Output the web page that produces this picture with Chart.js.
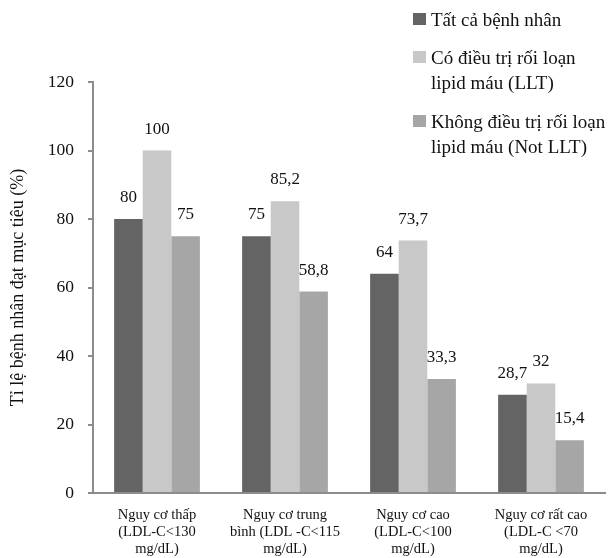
<!DOCTYPE html>
<html lang="vi">
<head>
<meta charset="utf-8">
<script src="https://cdn.jsdelivr.net/npm/chart.js@4/dist/chart.umd.min.js"></script>
<style>
  html, body { margin: 0; padding: 0; background: #ffffff; }
  #wrap { position: relative; width: 613px; height: 558px; }
  #c { position: absolute; left: 0; top: 0; }
  .legend { position: absolute; left: 413px; top: 0; font-family: "Liberation Serif", "DejaVu Serif", serif; font-size: 19px; color: #111; }
  .item { position: absolute; left: 0; white-space: nowrap; line-height: 25px; }
  .sw { position: absolute; left: 0; width: 13px; height: 12px; }
  .txt { position: absolute; left: 18px; }
</style>
</head>
<body>
<div id="wrap">
  <canvas id="c" width="613" height="558"></canvas>
  <div class="legend" id="legend"></div>
</div>
<script>
// Risk groups on the x axis (multi-line labels)
const categories = [
  ["Nguy cơ thấp", "(LDL-C<130", "mg/dL)"],
  ["Nguy cơ trung", "bình (LDL -C<115", "mg/dL)"],
  ["Nguy cơ cao", "(LDL-C<100", "mg/dL)"],
  ["Nguy cơ rất cao", "(LDL-C <70", "mg/dL)"]
];

// Share of patients reaching the LDL-C target (%)
const allPatients = [80, 75, 64, 28.7];
const withLLT = [100, 85.2, 73.7, 32];
const withoutLLT = [75, 58.8, 33.3, 15.4];

const seriesNames = [
  ["Tất cả bệnh nhân"],
  ["Có điều trị rối loạn", "lipid máu (LLT)"],
  ["Không điều trị rối loạn", "lipid máu (Not LLT)"]
];
const seriesColors = ["#646464", "#c8c8c8", "#a6a6a6"];

const yTicks = [0, 20, 40, 60, 80, 100, 120];
const yTitle = "Tỉ lệ bệnh nhân đạt mục tiêu (%)";

const serif = "'Liberation Serif', 'DejaVu Serif', serif";

// HTML legend in the top-right corner
const legendTops = [7, 45, 109];
const legendEl = document.getElementById('legend');
seriesNames.forEach((lines, i) => {
  const item = document.createElement('div');
  item.className = 'item';
  item.style.top = legendTops[i] + 'px';
  const sw = document.createElement('div');
  sw.className = 'sw';
  sw.style.background = seriesColors[i];
  sw.style.top = '6px';
  const txt = document.createElement('div');
  txt.className = 'txt';
  txt.innerHTML = lines.join('<br>');
  item.appendChild(sw);
  item.appendChild(txt);
  legendEl.appendChild(item);
});

// Value labels above each bar, written with a decimal comma
const valueLabels = {
  id: 'valueLabels',
  afterDatasetsDraw(chart) {
    const ctx = chart.ctx;
    ctx.save();
    ctx.font = "17px " + serif;
    ctx.fillStyle = "#111";
    ctx.textAlign = "center";
    ctx.textBaseline = "alphabetic";
    chart.data.datasets.forEach((ds, di) => {
      chart.getDatasetMeta(di).data.forEach((bar, i) => {
        const txt = String(ds.data[i]).replace('.', ',');
        ctx.fillText(txt, bar.x, bar.y - 17);
      });
    });
    ctx.restore();
  }
};

new Chart(document.getElementById('c'), {
  type: 'bar',
  data: {
    labels: categories,
    datasets: [
      { label: seriesNames[0].join(' '), data: allPatients, backgroundColor: seriesColors[0] },
      { label: seriesNames[1].join(' '), data: withLLT, backgroundColor: seriesColors[1] },
      { label: seriesNames[2].join(' '), data: withoutLLT, backgroundColor: seriesColors[2] }
    ]
  },
  options: {
    responsive: false,
    animation: false,
    layout: { padding: { top: 82, right: 8, left: 0, bottom: 0 } },
    datasets: { bar: { categoryPercentage: 0.67, barPercentage: 1.0 } },
    plugins: { legend: { display: false }, tooltip: { enabled: false } },
    scales: {
      x: {
        grid: { display: false },
        border: { display: true, color: '#8c8c8c', width: 2 },
        ticks: { font: { family: serif, size: 14.5, lineHeight: 1.2 }, color: '#111', padding: 5, maxRotation: 0, autoSkip: false },
        afterFit(scale) { scale.height = 65; }
      },
      y: {
        min: 0, max: 120,
        afterBuildTicks(scale) { scale.ticks = yTicks.map(v => ({ value: v })); },
        grid: { drawOnChartArea: false, drawTicks: true, tickLength: 5, color: '#8c8c8c', lineWidth: 2 },
        border: { display: true, color: '#8c8c8c', width: 2 },
        ticks: { font: { family: serif, size: 17.5 }, color: '#111', padding: 14 },
        title: { display: true, text: yTitle, font: { family: serif, size: 18 }, color: '#111', padding: { top: 7, bottom: 0 } },
        afterFit(scale) { scale.width = 93; }
      }
    }
  },
  plugins: [valueLabels]
});
</script>
</body>
</html>
